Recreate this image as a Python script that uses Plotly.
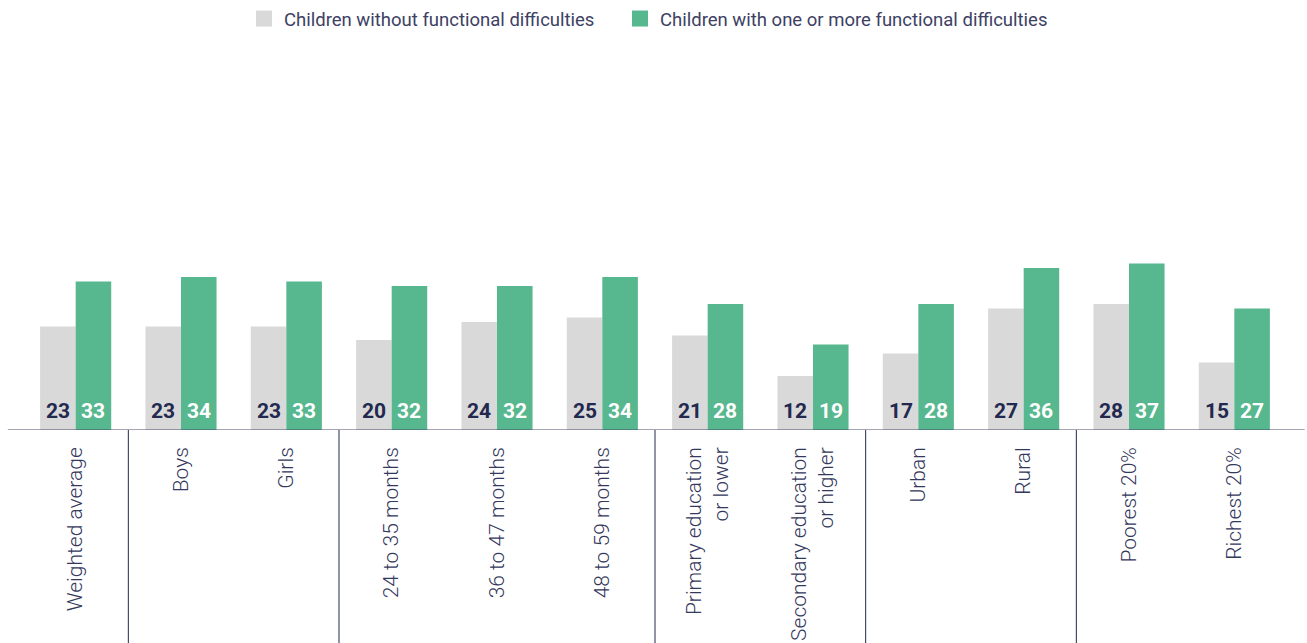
import plotly.graph_objects as go

categories = [
    "Weighted average", "Boys", "Girls",
    "24 to 35 months", "36 to 47 months", "48 to 59 months",
    "Primary education<br>or lower", "Secondary education<br>or higher",
    "Urban", "Rural", "Poorest 20%", "Richest 20%",
]
without_difficulties = [23, 23, 23, 20, 24, 25, 21, 12, 17, 27, 28, 15]
with_difficulties = [33, 34, 33, 32, 32, 34, 28, 19, 28, 36, 37, 27]
series_names = ["Children without functional difficulties",
                "Children with one or more functional difficulties"]
group_breaks = [0.5, 2.5, 5.5, 7.5, 9.5]

GREY = "#d9d9d9"
GREEN = "#57b78e"
NAVY = "#23284f"
FONT = "Roboto"

xpos = list(range(len(categories)))
W, H = 1307, 643
ML, MR, MT, MB = 23, 20, 70, 213
BARGAP = 0.325
cat_px = (W - ML - MR) / len(categories)
bar_px = cat_px * (1 - BARGAP) / 2
plot_w = W - ML - MR

fig = go.Figure()
for vals, name, color, lg in [(without_difficulties, series_names[0], GREY, "legend"),
                              (with_difficulties, series_names[1], GREEN, "legend2")]:
    fig.add_trace(go.Bar(x=xpos, y=vals, name=name, showlegend=False,
                         marker=dict(color=color, line=dict(width=0)),
                         hoverinfo="y"))
    fig.add_trace(go.Scatter(x=[None], y=[None], mode="markers", name=name, legend=lg,
                             marker=dict(symbol="square", size=16, color=color)))

annotations = []
for i in xpos:
    for vals, sgn, col in [(without_difficulties, -1, NAVY), (with_difficulties, 1, "white")]:
        annotations.append(dict(
            x=i, y=0, xref="x", yref="y", text=str(vals[i]), showarrow=False,
            xanchor="center", yanchor="bottom", xshift=sgn * bar_px / 2, yshift=5,
            font=dict(family=FONT, size=21, color=col, weight="bold")))

shapes = [dict(type="line", xref="paper", yref="y", x0=-0.012, x1=1.014, y0=0, y1=0,
               line=dict(color="#4a4f6a", width=1.2))]
for b in group_breaks:
    shapes.append(dict(type="line", xref="x", yref="paper", x0=b, x1=b, y0=0, y1=-0.62,
                       line=dict(color=NAVY, width=1)))

legend_style = dict(orientation="h", xanchor="left", y=1.0, yanchor="top", yref="container",
                    font=dict(family=FONT, size=18.5, color="#3d4163"),
                    itemwidth=30, bgcolor="rgba(0,0,0,0)")

fig.update_layout(
    width=W, height=H,
    margin=dict(l=ML, r=MR, t=MT, b=MB, autoexpand=False),
    paper_bgcolor="white", plot_bgcolor="white",
    barmode="group", bargap=BARGAP, bargroupgap=0,
    font=dict(family=FONT, color=NAVY),
    showlegend=True,
    legend=dict(x=(256 - 12 - ML) / plot_w, **legend_style),
    legend2=dict(x=(632 - 12 - ML) / plot_w, **legend_style),
    xaxis=dict(tickmode="array", tickvals=xpos, ticktext=categories, tickangle=-90,
               range=[-0.5, len(categories) - 0.5], showgrid=False, zeroline=False,
               showline=False, ticks="", ticklen=0, automargin=False,
               ticklabelstandoff=12,
               tickfont=dict(family=FONT, size=21, color="#33385c", weight=300)),
    yaxis=dict(range=[0, 80], visible=False, showgrid=False, zeroline=False,
               automargin=False),
    shapes=shapes,
    annotations=annotations,
)

fig.write_html("out.html", config={"displayModeBar": False},
               post_script="document.body.style.margin='0';document.body.style.overflow='hidden';")
